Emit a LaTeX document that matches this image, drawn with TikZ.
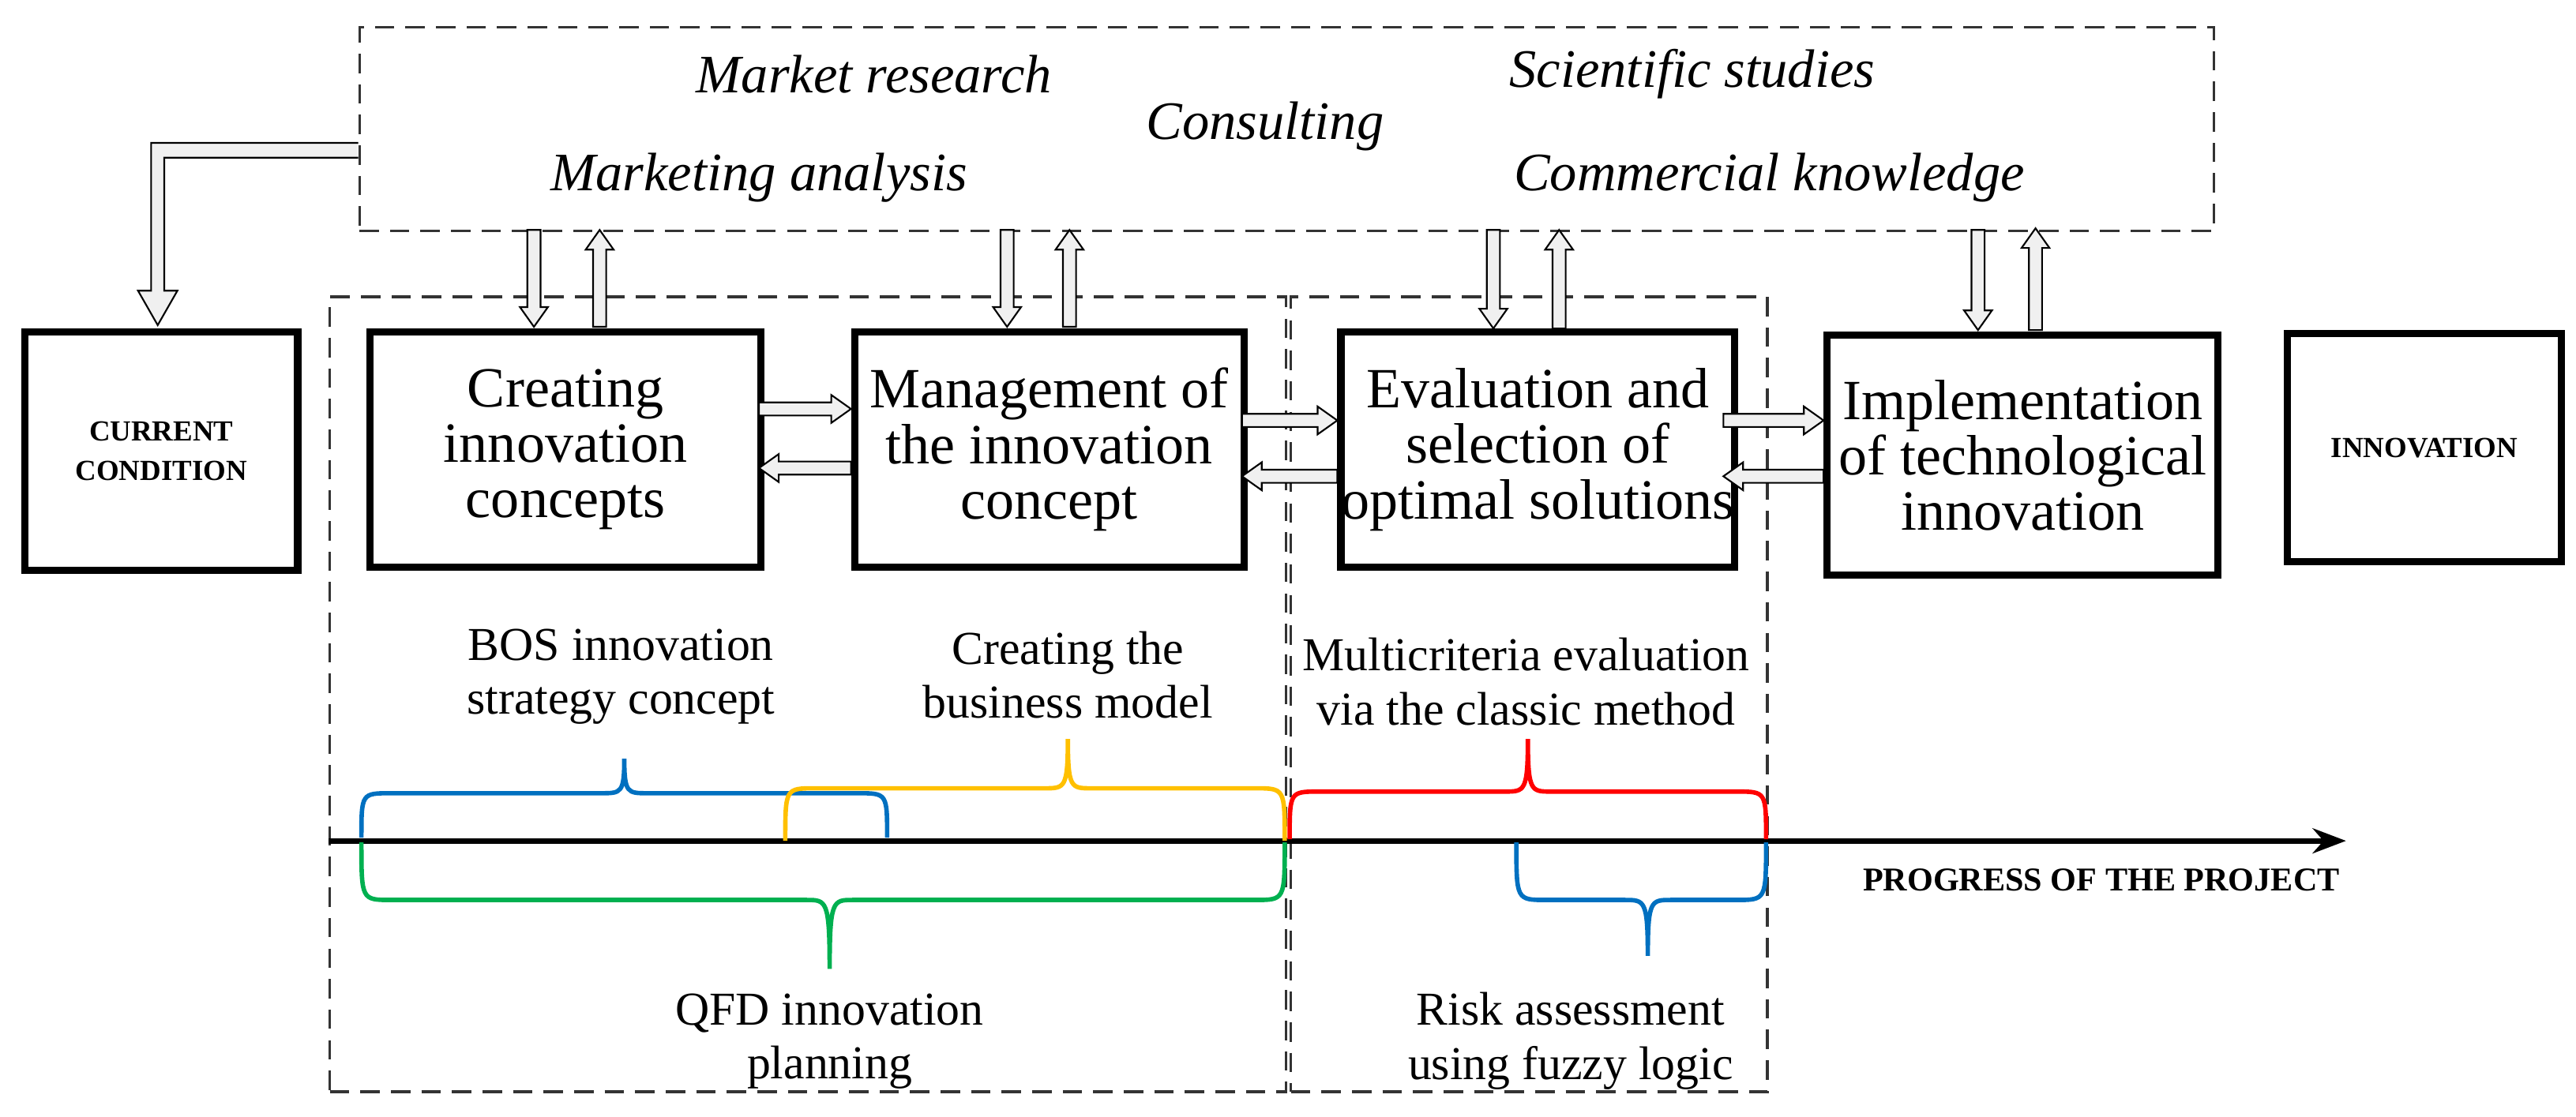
\documentclass[tikz,border=0pt]{standalone}
\usepackage{fontspec}
\usetikzlibrary{arrows.meta}
\setmainfont{Liberation Serif}
\begin{document}
\begin{tikzpicture}[x=0.020804cm,y=-0.020804cm,
  dbox/.style={draw=black!80,dash pattern=on 7pt off 4pt,line width=0.9pt},
  pbox/.style={draw,line width=2.6pt,align=center,inner sep=0pt,font=\fontsize{20.5}{20}\selectfont},
  harrow/.style={draw,fill=black!6,line width=0.6pt,line join=miter},
  itl/.style={font=\fontsize{19.5}{22}\selectfont\itshape},
  lbl/.style={align=center,font=\fontsize{17}{19.5}\selectfont},
  brc/.style={line width=1.6pt},
  bold/.style={align=center,font=\fontsize{10.5}{14}\selectfont\bfseries}]
\definecolor{cblue}{RGB}{0,112,192}
\definecolor{cyel}{RGB}{255,192,0}
\definecolor{cgrn}{RGB}{0,176,80}
\definecolor{cred}{RGB}{255,0,0}
\newcommand\HArr[7]{\begin{scope}[shift={(#1,#2)},rotate=#4]
  \draw[harrow] (0,-#5)--(#3-#7,-#5)--(#3-#7,-#6)--(#3,0)--(#3-#7,#6)--(#3-#7,#5)--(0,#5)--cycle;
  \end{scope}}
\newcommand\SArr[4]{\HArr{#1}{#2}{#3}{#4}{4}{8.5}{12}}
\newcommand\Brc[7]{% x1 x2 xt ybase yh ytip color
  \draw[brc,#7] (#1,#4) .. controls (#1,#5) .. (#1+18,#5) -- (#3-14,#5) .. controls (#3-2,#5) and (#3,#5) .. (#3,#6)
   .. controls (#3,#5) and (#3+2,#5) .. (#3+14,#5) -- (#2-18,#5) .. controls (#2,#5) .. (#2,#4);}
\useasboundingbox (0,0) rectangle (1568,680);
% top dashed box
\node[dbox,minimum width={1129*0.020804cm},minimum height={124*0.020804cm},anchor=north west] (top) at (218,16) {};
\node[itl] (mr) at (532,45) {Market research};
\node[itl] (co) at (770,77) {Consulting};
\node[itl] (ma) at (462,108) {Marketing analysis};
\node[itl] (ss) at (1030,45) {Scientific studies};
\node[itl] (ck) at (1077,108) {Commercial knowledge};
% inner dashed boxes
\node[dbox,minimum width={582*0.020804cm},minimum height={484*0.020804cm},anchor=north west] (ph1) at (200,180) {};
\node[dbox,minimum width={290*0.020804cm},minimum height={484*0.020804cm},anchor=north west] (ph2) at (785,180) {};
% process boxes
\node[pbox,minimum width={166*0.020804cm},minimum height={145*0.020804cm},anchor=north west,font=\fontsize{10.5}{14}\selectfont\bfseries] (cc) at (13,200) {CURRENT\\CONDITION};
\node[pbox,minimum width={238*0.020804cm},minimum height={143*0.020804cm},anchor=north west] (b1) at (223,200) {Creating\\innovation\\concepts};
\node[pbox,minimum width={237*0.020804cm},minimum height={143*0.020804cm},anchor=north west] (b2) at (518,200) {Management of\\the innovation\\concept};
\node[pbox,minimum width={234*0.020804cm},minimum height={143*0.020804cm},anchor=north west] (b3) at (814,200) {Evaluation and\\selection of\\optimal solutions};
\node[pbox,minimum width={238*0.020804cm},minimum height={146*0.020804cm},anchor=north west] (b4) at (1110,202) {Implementation\\of technological\\innovation};
\node[pbox,minimum width={167*0.020804cm},minimum height={139*0.020804cm},anchor=north west,font=\fontsize{10.5}{14}\selectfont\bfseries] (in) at (1390,201) {INNOVATION};
% elbow arrow to current condition
\draw[harrow] (218,87) -- (92,87) -- (92,177) -- (84,177) -- (96,198) -- (108,177) -- (100,177) -- (100,96) -- (218,96);
% vertical arrow pairs
\SArr{325}{140}{59}{-90}\SArr{365}{199}{59}{90}
\SArr{613}{140}{59}{-90}\SArr{651}{199}{59}{90}
\SArr{909}{140}{60}{-90}\SArr{949}{200}{60}{90}
\SArr{1204}{140}{61}{-90}\SArr{1239}{201}{62}{90}
% horizontal arrow pairs
\SArr{462}{249}{56}{0}\SArr{518}{285}{56}{180}
\SArr{756}{256}{58}{0}\SArr{814}{290}{58}{180}
\SArr{1049}{256}{61}{0}\SArr{1110}{290}{61}{180}
% timeline
\coordinate (t0) at (200,512);
\coordinate (t1) at (1428,512);
\draw[line width=2pt,-{Stealth[length=12pt,width=9pt]}] (t0) -- (t1);
\node[bold,font=\fontsize{12}{14}\selectfont\bfseries] (pp) at (1279,536) {PROGRESS OF THE PROJECT};
% braces
\Brc{220}{540}{380}{510}{483}{462}{cblue}
\Brc{478}{782}{650}{512}{480}{450}{cyel}
\Brc{220}{782}{505}{513}{548}{590}{cgrn}
\Brc{785}{1075}{930}{511}{482}{450}{cred}
\Brc{923}{1075}{1003}{513}{548}{582}{cblue}
% labels
\node[lbl] (l1) at (378,412) {BOS innovation\\strategy concept};
\node[lbl] (l2) at (650,411) {Creating the\\business model};
\node[lbl] (l3) at (929,415) {Multicriteria evaluation\\via the classic method};
\node[lbl] (l4) at (505,634) {QFD innovation\\planning};
\node[lbl] (l5) at (956,634) {Risk assessment\\using fuzzy logic};
\end{tikzpicture}
\end{document}
